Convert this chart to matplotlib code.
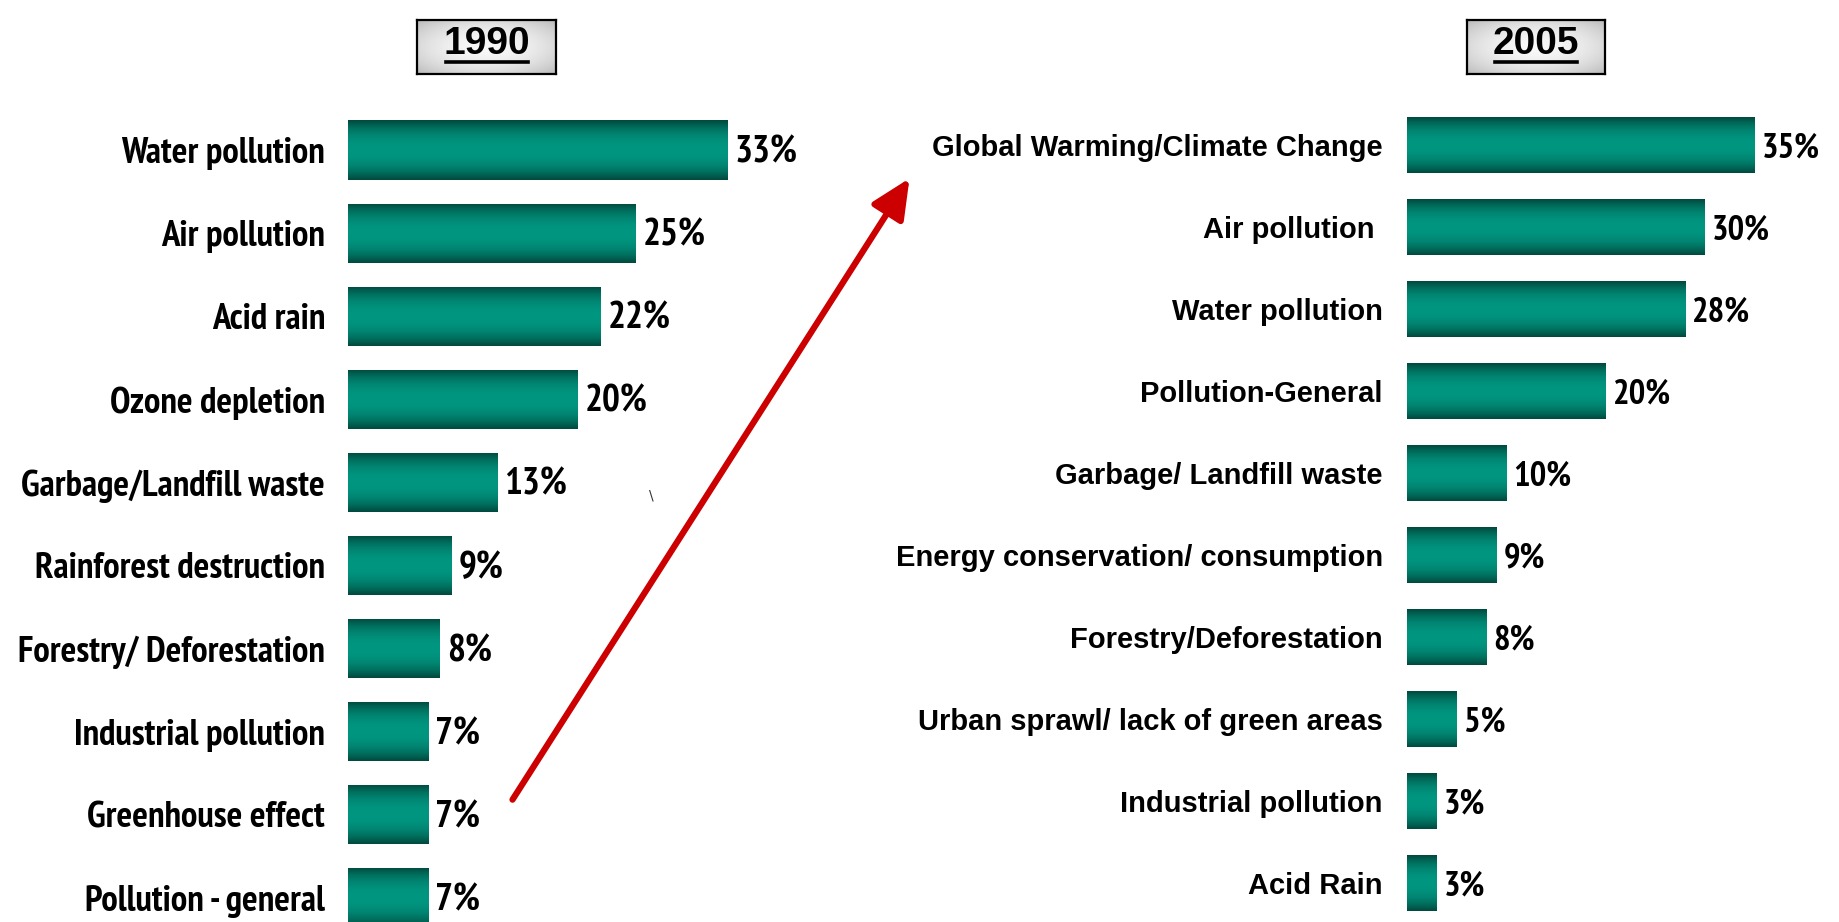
import numpy as np
import matplotlib
matplotlib.use('Agg')
import matplotlib.pyplot as plt
from matplotlib import font_manager as fm
from matplotlib.patches import FancyArrowPatch
from matplotlib.lines import Line2D

# Data
labels_1990 = ['Water pollution', 'Air pollution', 'Acid rain', 'Ozone depletion',
               'Garbage/Landfill waste', 'Rainforest destruction',
               'Forestry/ Deforestation', 'Industrial pollution',
               'Greenhouse effect', 'Pollution - general']
values_1990 = [33, 25, 22, 20, 13, 9, 8, 7, 7, 7]

labels_2005 = ['Global Warming/Climate Change', 'Air pollution ', 'Water pollution',
               'Pollution-General', 'Garbage/ Landfill waste',
               'Energy conservation/ consumption', 'Forestry/Deforestation',
               'Urban sprawl/ lack of green areas', 'Industrial pollution',
               'Acid Rain']
values_2005 = [35, 30, 28, 20, 10, 9, 8, 5, 3, 3]

W, H = 1839, 922

# narrow bold font (Arial Narrow look-alike) if present
narrow = None
for f in fm.fontManager.ttflist:
    fn = f.fname.lower()
    if 'narrow' in fn and 'bold' in fn and 'italic' not in fn:
        narrow = f.fname
        break


def nfont(size):
    if narrow:
        return fm.FontProperties(fname=narrow, size=size)
    return fm.FontProperties(family='Liberation Sans', weight='bold', size=size)


def wfont(size):
    return fm.FontProperties(family=['Liberation Sans', 'DejaVu Sans'],
                             weight='bold', stretch='normal', size=size)


fig = plt.figure(figsize=(W / 100, H / 100), dpi=100)
fig.patch.set_facecolor('white')

# vertical gradient for the bars: dark edges, bright teal middle
t = np.linspace(0, 1, 64)
prof = np.clip(np.abs(t - 0.5) * 2, 0, 1) ** 2.2
dark = np.array([0x00, 0x4a, 0x3e]) / 255
light = np.array([0x00, 0x96, 0x80]) / 255
grad = light[None, :] * (1 - prof[:, None]) + dark[None, :] * prof[:, None]
grad = grad[:, None, :]


def panel(x0_px, px_per_unit, xmax, y0_px, step_px, height, labels, values,
          label_fp, pct_fp, pad):
    ax = fig.add_axes([x0_px / W, 0, xmax * px_per_unit / W, 1])
    n = len(values)
    ypos = np.arange(n)
    bars = ax.barh(ypos, values, height=height, color='none', edgecolor='none')
    for b in bars:
        x, y = b.get_x(), b.get_y()
        im = ax.imshow(grad, extent=[x, x + b.get_width(), y + b.get_height(), y],
                       aspect='auto', zorder=2)
        im.set_clip_path(b)
    for yy, v in zip(ypos, values):
        ax.annotate(f'{v}%', (v, yy), xytext=(7, -3), textcoords='offset pixels',
                    ha='left', va='center', fontproperties=pct_fp)
    ax.set_xlim(0, xmax)
    ax.set_ylim((H - y0_px) / step_px, -y0_px / step_px)
    ax.set_yticks(ypos)
    ax.set_yticklabels(labels, fontproperties=label_fp)
    ax.tick_params(axis='y', length=0, pad=pad)
    ax.set_xticks([])
    for s in ax.spines.values():
        s.set_visible(False)
    ax.patch.set_alpha(0)
    return ax


panel(348, 11.49, 40, 150, 83.1, 0.71, labels_1990, values_1990,
      nfont(26.5), nfont(27), 16.5)
panel(1407, 9.93, 42, 145, 82.0, 0.68, labels_2005, values_2005,
      wfont(21), nfont(25), 17.5)

# year header boxes
bx = np.linspace(-1, 1, 120)
by = np.linspace(-1, 1, 60)
gx, gy = np.meshgrid(bx, by)
box_grad = 0.97 - 0.12 * np.clip(np.sqrt(gx ** 2 + gy ** 2), 0, 1.4) ** 2


def header(x0, x1, y0, y1, txt):
    bax = fig.add_axes([x0 / W, 1 - y1 / H, (x1 - x0) / W, (y1 - y0) / H])
    bax.imshow(box_grad, cmap='gray', vmin=0, vmax=1, aspect='auto')
    bax.set_xticks([])
    bax.set_yticks([])
    for s in bax.spines.values():
        s.set_linewidth(1.6)
    xc = (x0 + x1) / 2
    fig.text(xc / W, 1 - 44 / H, txt, ha='center', va='center',
             fontproperties=wfont(28))
    fig.add_artist(Line2D([(xc - 41) / W, (xc + 41) / W], [1 - 62 / H, 1 - 62 / H],
                          color='black', lw=2.6))


header(417, 556, 20, 74, '1990')
header(1467, 1605, 20, 74, '2005')

# red trend arrow
arrow = FancyArrowPatch((511 / W, 1 - 802 / H), (911 / W, 1 - 176 / H),
                        transform=fig.transFigure,
                        arrowstyle='-|>,head_length=1.5,head_width=0.7',
                        mutation_scale=16, lw=4.5, color='#cc0000')
fig.add_artist(arrow)

fig.text(651 / W, 1 - 495 / H, '\\', ha='center', va='center', fontsize=10,
         color='#333333')

fig.savefig('out.png', dpi=100, facecolor='white')
